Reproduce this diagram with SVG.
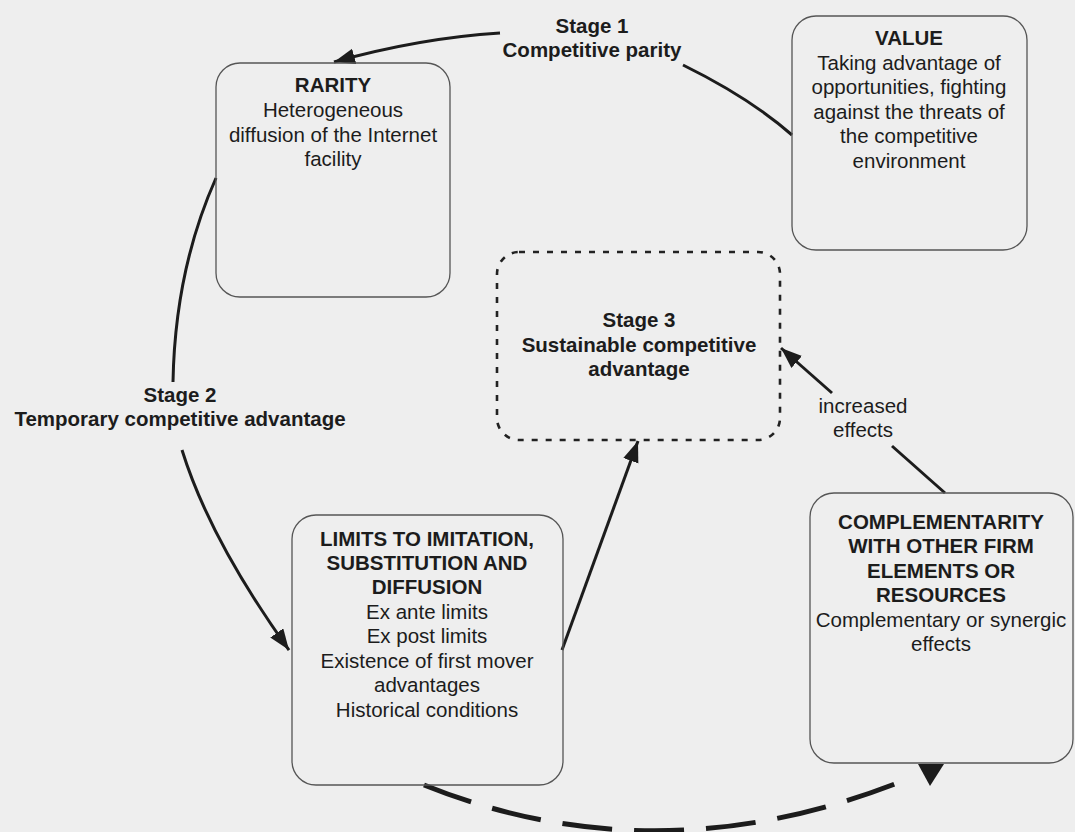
<svg xmlns="http://www.w3.org/2000/svg" width="1075" height="832" viewBox="0 0 1075 832">
<defs>
<style>
.box{fill:none;stroke:#555;stroke-width:1.3}
.dbox{fill:none;stroke:#222;stroke-width:2.6;stroke-dasharray:6 8}
.t{font-family:"Liberation Sans",Arial,sans-serif;font-size:20.5px;fill:#1c1c1c;text-anchor:middle}
.b{font-weight:bold}
.ln{fill:none;stroke:#1c1c1c;stroke-width:3}
.dash{fill:none;stroke:#1c1c1c;stroke-width:5;stroke-dasharray:50 22}
</style>
<marker id="ah" markerUnits="userSpaceOnUse" markerWidth="22" markerHeight="18" refX="21" refY="8" orient="auto">
<path d="M0,0 L21,8 L0,16 Z" fill="#1c1c1c"/>
</marker>
</defs>
<rect width="1075" height="832" fill="#eeeeee"/>

<g id="connectors">
<path class="ln" d="M500,33 Q420,38 334,62" marker-end="url(#ah)"/>
<path class="ln" d="M683,65 Q750,98 792,135"/>
<path class="ln" d="M216,178 Q175,270 173,382"/>
<path class="ln" d="M182,450 Q210,540 289,650" marker-end="url(#ah)"/>
<path class="ln" d="M562,650 L638,441" marker-end="url(#ah)"/>
<path class="ln" d="M945,493 L892,446"/>
<path class="ln" d="M832,393 L781,348" marker-end="url(#ah)"/>
<path class="dash" d="M424,785 Q655,878 900,782"/>
<polygon points="918,764 944,764 930,786" fill="#1c1c1c"/>
</g>

<g id="label-stage1">
<text class="t b" x="592" y="33">Stage 1</text>
<text class="t b" x="592" y="57">Competitive parity</text>
</g>
<g id="label-stage2">
<text class="t b" x="180" y="402">Stage 2</text>
<text class="t b" x="180" y="426">Temporary competitive advantage</text>
</g>
<g id="label-increased">
<text class="t" x="863" y="413">increased</text>
<text class="t" x="863" y="437">effects</text>
</g>

<g id="rarity">
<rect class="box" x="216" y="63" width="234" height="234" rx="24"/>
<text class="t b" x="333" y="92">RARITY</text>
<text class="t" x="333" y="117">Heterogeneous</text>
<text class="t" x="333" y="142">diffusion of the Internet</text>
<text class="t" x="333" y="166">facility</text>
</g>

<g id="value">
<rect class="box" x="792" y="16" width="235" height="234" rx="24"/>
<text class="t b" x="909" y="45">VALUE</text>
<text class="t" x="909" y="70">Taking advantage of</text>
<text class="t" x="909" y="94">opportunities, fighting</text>
<text class="t" x="909" y="119">against the threats of</text>
<text class="t" x="909" y="143">the competitive</text>
<text class="t" x="909" y="168">environment</text>
</g>

<g id="stage3">
<rect class="dbox" x="497" y="252" width="283" height="188" rx="22"/>
<text class="t b" x="639" y="327">Stage 3</text>
<text class="t b" x="639" y="352">Sustainable competitive</text>
<text class="t b" x="639" y="376">advantage</text>
</g>

<g id="limits">
<rect class="box" x="292" y="515" width="271" height="270" rx="24"/>
<text class="t b" x="427" y="546">LIMITS TO IMITATION,</text>
<text class="t b" x="427" y="570">SUBSTITUTION AND</text>
<text class="t b" x="427" y="594">DIFFUSION</text>
<text class="t" x="427" y="619">Ex ante limits</text>
<text class="t" x="427" y="643">Ex post limits</text>
<text class="t" x="427" y="668">Existence of first mover</text>
<text class="t" x="427" y="692">advantages</text>
<text class="t" x="427" y="717">Historical conditions</text>
</g>

<g id="complementarity">
<rect class="box" x="810" y="493" width="263" height="270" rx="24"/>
<text class="t b" x="941" y="529">COMPLEMENTARITY</text>
<text class="t b" x="941" y="553">WITH OTHER FIRM</text>
<text class="t b" x="941" y="578">ELEMENTS OR</text>
<text class="t b" x="941" y="602">RESOURCES</text>
<text class="t" x="941" y="627">Complementary or synergic</text>
<text class="t" x="941" y="651">effects</text>
</g>
</svg>
